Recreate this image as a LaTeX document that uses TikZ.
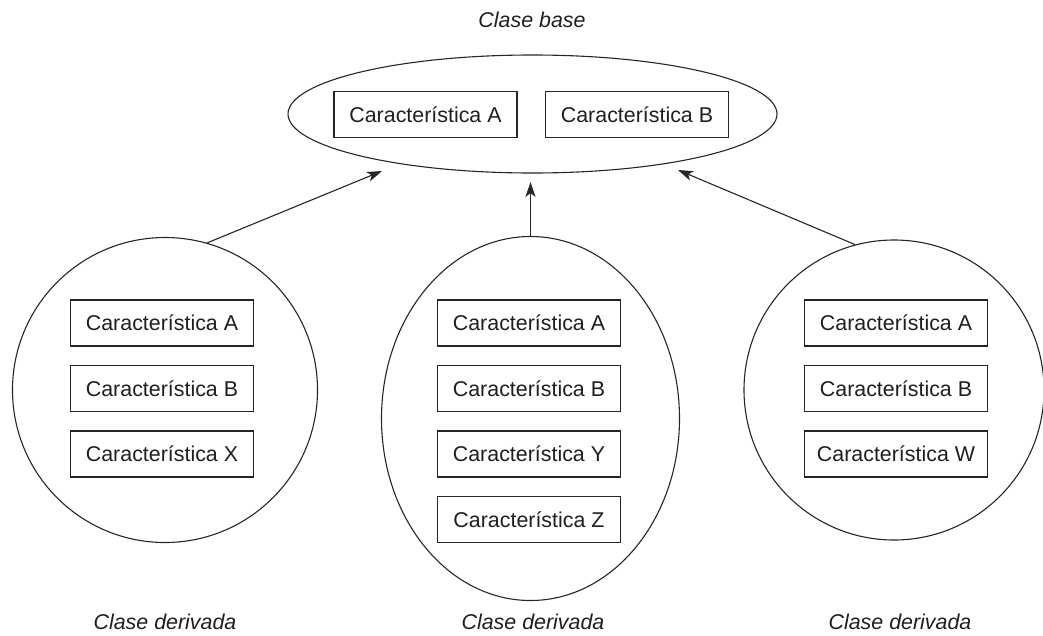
\documentclass[tikz,border=0pt]{standalone}
\usepackage{fontspec}
\setmainfont{Liberation Sans}
\usetikzlibrary{shapes.geometric,arrows.meta}
\begin{document}
\begin{tikzpicture}[x=1pt,y=-1pt,
  every node/.style={font=\fontsize{21.4}{25}\selectfont, text=black!88},
  feat/.style={draw=black!85, line width=1.1pt, minimum width=183pt, minimum height=46pt, inner sep=0pt},
  cls/.style={draw=black!85, line width=1.1pt, inner sep=0pt},
  lbl/.style={font=\fontsize{21.4}{25}\selectfont\itshape},
  conn/.style={draw=black!85, line width=1.1pt, -{Stealth[length=15pt,width=10pt,inset=4pt]}}
]
\useasboundingbox (0,0) rectangle (1043,635);
% base class
\node[cls, ellipse, minimum width=489pt, minimum height=118pt] (B) at (532.5,114) {};
\node[feat] (BA) at (425.5,114.5) {Característica A};
\node[feat] (BB) at (637,114.5) {Característica B};
\node[lbl] (tb) at (532,20) {Clase base};
% left derived
\node[cls, circle, minimum size=305pt] (L) at (165,390) {};
\node[feat] (LA) at (162,323) {Característica A};
\node[feat] (LB) at (162,388.5) {Característica B};
\node[feat] (LX) at (162,454) {Característica X};
\node[lbl] (tl) at (165,622) {Clase derivada};
% middle derived
\node[cls, ellipse, minimum width=298pt, minimum height=364pt] (M) at (530.5,418.5) {};
\node[feat] (MA) at (529,323) {Característica A};
\node[feat] (MB) at (529,388.5) {Característica B};
\node[feat] (MY) at (529,454) {Característica Y};
\node[feat] (MZ) at (529,519.5) {Característica Z};
\node[lbl] (tm) at (533,622) {Clase derivada};
% right derived
\node[cls, circle, minimum size=300pt] (R) at (894,390) {};
\node[feat] (RA) at (896,323) {Característica A};
\node[feat] (RB) at (896,388.5) {Característica B};
\node[feat] (RW) at (896,454) {Característica W};
\node[lbl] (tr) at (900,622) {Clase derivada};
% arrow ends
\coordinate (eL) at (382,171);
\coordinate (eM) at (530.5,182);
\coordinate (eR) at (678,170);
\draw[conn] (L.74) -- (eL);
\draw[conn] (M.north) -- (eM);
\draw[conn] (R.105) -- (eR);
\end{tikzpicture}
\end{document}
